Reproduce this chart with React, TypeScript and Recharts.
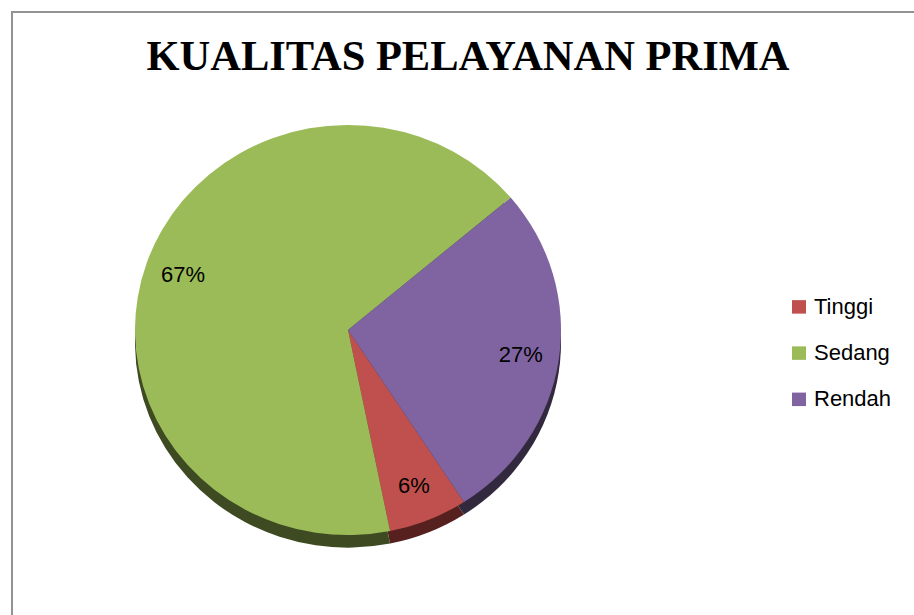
import { PieChart, Pie, Cell, Legend } from "recharts";

const categories = ["Tinggi", "Sedang", "Rendah"];
const values = [6, 67, 27];

const COLORS = ["#C0504D", "#9BBB59", "#8064A2"];
const SIDE_COLORS = ["#56201f", "#3e4a22", "#33293f"];

const data = categories.map((name, i) => ({ name, value: values[i] }));

const RAD = Math.PI / 180;

const renderLabel = ({ cx, cy, midAngle, outerRadius, percent }: any) => {
  const r = outerRadius * 0.82;
  const x = cx + r * Math.cos(-midAngle * RAD);
  const y = cy + r * Math.sin(-midAngle * RAD);
  return (
    <text
      x={x}
      y={y}
      fill="#000"
      textAnchor="middle"
      dominantBaseline="central"
      fontFamily="'Liberation Sans', Arial, sans-serif"
      fontSize={22}
    >
      {`${Math.round(percent * 100)}%`}
    </text>
  );
};

// only the top-face series goes in the legend, in category order
const renderLegend = ({ payload }: any) => {
  const items = (payload || [])
    .filter((e: any) => COLORS.includes(e.color))
    .sort((a: any, b: any) => categories.indexOf(a.value) - categories.indexOf(b.value));
  return (
    <div style={{ fontFamily: "'Liberation Sans', Arial, sans-serif", fontSize: 22 }}>
      {items.map((entry: any) => (
        <div
          key={entry.value}
          style={{ display: "flex", alignItems: "center", height: 48 }}
        >
          <span
            style={{
              display: "inline-block",
              width: 14,
              height: 14,
              background: entry.color,
              marginRight: 8,
            }}
          />
          <span style={{ color: "#000" }}>{entry.value}</span>
        </div>
      ))}
    </div>
  );
};

export default function App() {
  return (
    <div
      style={{
        position: "absolute",
        left: 0,
        top: 0,
        width: 914,
        height: 615,
        overflow: "hidden",
        background: "#fff",
      }}
    >
      <div
        style={{
          position: "absolute",
          left: 11,
          top: 11,
          width: 940,
          height: 640,
          border: "2px solid #939393",
          boxSizing: "border-box",
        }}
      />
      <div
        style={{
          position: "absolute",
          left: 0,
          top: 30,
          width: 936,
          textAlign: "center",
          fontFamily: "'Liberation Serif', 'Times New Roman', serif",
          fontWeight: "bold",
          fontSize: 42.5,
          lineHeight: "52px",
          color: "#000",
        }}
      >
        KUALITAS PELAYANAN PRIMA
      </div>
      <div
        style={{
          position: "absolute",
          left: 0,
          top: 0,
          transform: "scale(1, 0.963)",
          transformOrigin: "348px 330px",
        }}
      >
        <PieChart width={914} height={615}>
          <Pie
            data={data}
            dataKey="value"
            nameKey="name"
            cx={343}
            cy={338}
            outerRadius={213}
            startAngle={-57}
            endAngle={-417}
            stroke="none"
            legendType="none"
            isAnimationActive={false}
          >
            {data.map((entry, index) => (
              <Cell key={`side-${index}`} fill={SIDE_COLORS[index]} />
            ))}
          </Pie>
          <Pie
            data={data}
            dataKey="value"
            nameKey="name"
            cx={343}
            cy={325}
            outerRadius={213}
            startAngle={-57}
            endAngle={-417}
            stroke="none"
            labelLine={false}
            label={renderLabel}
            isAnimationActive={false}
          >
            {data.map((entry, index) => (
              <Cell key={`cell-${index}`} fill={COLORS[index]} />
            ))}
          </Pie>
          <Legend
            layout="vertical"
            content={renderLegend}
            wrapperStyle={{ position: "absolute", left: 792, top: 282, width: 120 }}
          />
        </PieChart>
      </div>
    </div>
  );
}
